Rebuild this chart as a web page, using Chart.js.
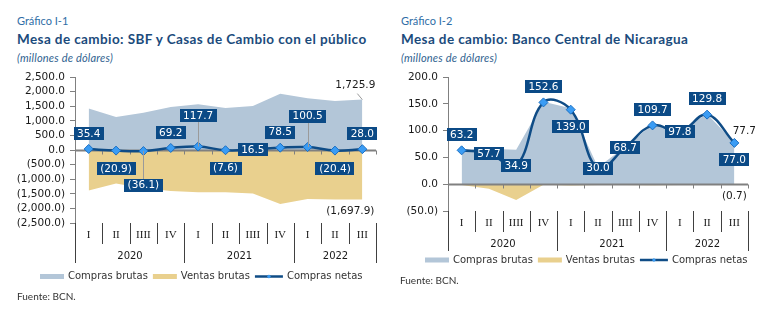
<!DOCTYPE html>
<html>
<head>
<meta charset="utf-8">
<script src="https://cdn.jsdelivr.net/npm/chart.js@4.4.0/dist/chart.umd.min.js"></script>
<style>
  body { margin: 0; background: #fff; width: 783px; height: 329px; position: relative; overflow: hidden; font-family: Lato, "Noto Sans", sans-serif; }
  .hd { position: absolute; white-space: nowrap; }
  .num { font-size: 11px; line-height: 14px; color: #2f6ea6; }
  .ttl { font-size: 13.5px; line-height: 16px; font-weight: bold; color: #1b4b7c; letter-spacing: 0.4px; }
  .unit { font-size: 11px; line-height: 13px; font-style: italic; color: #2f5f8f; letter-spacing: 0.2px; }
  .src { font-size: 10px; line-height: 12px; color: #333; }
  .box { position: absolute; top: 64px; }
</style>
</head>
<body>
<div class="hd num" style="left:17px;top:14px">Gráfico I-1</div>
<div class="hd ttl" style="left:17px;top:31px">Mesa de cambio: SBF y Casas de Cambio con el público</div>
<div class="hd unit" style="left:17px;top:51px">(millones de dólares)</div>
<div class="hd num" style="left:401px;top:14px">Gráfico I-2</div>
<div class="hd ttl" style="left:401px;top:31px">Mesa de cambio: Banco Central de Nicaragua</div>
<div class="hd unit" style="left:401px;top:51px">(millones de dólares)</div>

<div class="box" style="left:0;width:390px;height:245px"><canvas id="sbf" width="390" height="245"></canvas></div>
<div class="box" style="left:390px;width:393px;height:245px"><canvas id="bcn" width="393" height="245"></canvas></div>

<div class="hd src" style="left:17px;top:290px">Fuente: BCN.</div>
<div class="hd src" style="left:400px;top:274px">Fuente: BCN.</div>

<script>
// categorias
const quarters = ['I', 'II', 'IIII', 'IV', 'I', 'II', 'IIII', 'IV', 'I', 'II', 'III'];
const years = ['2020', '2021', '2022'];
const yearSpans = [4, 4, 3];
const seriesNames = ['Compras brutas', 'Ventas brutas', 'Compras netas'];

// Grafico I-1: SBF y casas de cambio
const sbfCompras = [1420.0, 1130.0, 1275.0, 1470.0, 1565.0, 1440.0, 1505.0, 1930.0, 1775.0, 1675.0, 1725.9];
const sbfVentas = [-1384.6, -1150.9, -1311.1, -1400.8, -1447.3, -1447.6, -1488.5, -1851.5, -1674.5, -1695.4, -1697.9];
const sbfNetas = [35.4, -20.9, -36.1, 69.2, 117.7, -7.6, 16.5, 78.5, 100.5, -20.4, 28.0];
const sbfTicks = [-2500, -2000, -1500, -1000, -500, 0, 500, 1000, 1500, 2000, 2500];

// Grafico I-2: BCN
const bcnCompras = [64.5, 66.0, 64.3, 153.6, 141.5, 31.5, 70.0, 111.5, 99.5, 131.0, 77.7];
const bcnVentas = [-1.3, -8.3, -29.4, -1.0, -2.5, -1.5, -1.3, -1.8, -1.7, -1.2, -0.7];
const bcnNetas = [63.2, 57.7, 34.9, 152.6, 139.0, 30.0, 68.7, 109.7, 97.8, 129.8, 77.0];
const bcnTicks = [-50, 0, 50, 100, 150, 200];

const COL = {
  compras: '#b3c6d8',
  ventas: '#e9d08e',
  netas: '#0f4c86',
  box: '#0b4a86',
  marker: '#3a9cf4',
  markerBorder: '#1b6fc2',
  axis: '#808080',
  sep: '#404040',
  text: '#1a1a1a'
};
const NUM_FONT = "10.5px 'DejaVu Sans'";

function fmt(v) {
  var s = Math.abs(v).toLocaleString('en-US', {minimumFractionDigits: 1, maximumFractionDigits: 1});
  return v < 0 ? '(' + s + ')' : s;
}

function seg(ctx, x1, y1, x2, y2) {
  ctx.beginPath();
  ctx.moveTo(x1, y1);
  ctx.lineTo(x2, y2);
  ctx.stroke();
}

// linea del cero, ejes de categorias y leyenda
const decor = {
  id: 'decor',
  beforeDatasetDraw(chart, args, o) {
    if (args.index !== 0) return;
    var ctx = chart.ctx, a = chart.chartArea;
    var y0 = Math.round(chart.scales.y.getPixelForValue(0)) + 0.5;
    var xs = chart.scales.x, step = xs.getPixelForValue(1) - xs.getPixelForValue(0);
    ctx.save();
    ctx.strokeStyle = COL.axis;
    ctx.lineWidth = 1;
    for (var i = 1; i <= quarters.length; i++) {
      var x = Math.round(xs.getPixelForValue(0) + (i - 0.5) * step) + 0.5;
      seg(ctx, x, y0, x, y0 + 4);
    }
    ctx.lineWidth = 2;
    seg(ctx, a.left, y0, a.right, y0);
    ctx.restore();
  },
  afterDraw(chart, args, o) {
    var ctx = chart.ctx, a = chart.chartArea, xs = chart.scales.x;
    var step = xs.getPixelForValue(1) - xs.getPixelForValue(0);
    var bx = function (i) { return Math.round(xs.getPixelForValue(0) + (i - 0.5) * step) + 0.5; };
    ctx.save();
    ctx.strokeStyle = COL.sep;
    ctx.lineWidth = 1;
    var yearEdges = [0];
    yearSpans.forEach(function (s) { yearEdges.push(yearEdges[yearEdges.length - 1] + s); });
    for (var i = 0; i <= quarters.length; i++) {
      var long = yearEdges.indexOf(i) >= 0;
      seg(ctx, bx(i), a.bottom, bx(i), a.bottom + (long ? 40 : 21));
    }
    ctx.fillStyle = COL.text;
    ctx.textAlign = 'center';
    ctx.textBaseline = 'middle';
    ctx.font = "11px 'Liberation Serif'";
    quarters.forEach(function (q, i) { ctx.fillText(q, xs.getPixelForValue(i), a.bottom + 12.5); });
    ctx.font = "10px 'DejaVu Sans'";
    years.forEach(function (y, k) {
      var mid = (bx(yearEdges[k]) + bx(yearEdges[k + 1])) / 2;
      ctx.fillText(y, mid, a.bottom + 33.5);
    });

    // leyenda
    var x = o.legendX, y = o.legendY;
    ctx.textAlign = 'left';
    [COL.compras, COL.ventas, null].forEach(function (c, k) {
      if (c) {
        ctx.fillStyle = c;
        ctx.fillRect(x, y - 2.5, 24, 5);
        x += 28;
      } else {
        ctx.strokeStyle = COL.netas;
        ctx.lineWidth = 2.5;
        seg(ctx, x, y, x + 28, y);
        ctx.fillStyle = COL.marker;
        ctx.beginPath();
        ctx.moveTo(x + 14, y - 2); ctx.lineTo(x + 16, y); ctx.lineTo(x + 14, y + 2); ctx.lineTo(x + 12, y);
        ctx.fill();
        x += 32;
      }
      ctx.fillStyle = '#333';
      ctx.fillText(seriesNames[k], x, y);
      x += ctx.measureText(seriesNames[k]).width + 5;
    });
    ctx.restore();
  },
  afterDatasetsDraw(chart, args, o) {
    var ctx = chart.ctx;
    var meta = chart.getDatasetMeta(0);
    var vals = chart.data.datasets[0].data;
    ctx.save();
    ctx.font = NUM_FONT;
    ctx.textAlign = 'center';
    ctx.textBaseline = 'middle';
    meta.data.forEach(function (pt, i) {
      var pos = o.pos[i], dy = o.shift[pos];
      var txt = fmt(vals[i]);
      var w = Math.round(ctx.measureText(txt).width + 7), h = 13;
      var cx = pt.x, cy = pt.y + dy;
      if (pos === 'up2' || pos === 'down2') {
        ctx.strokeStyle = '#9a9a9a';
        ctx.lineWidth = 1;
        seg(ctx, Math.round(pt.x) + 0.5, pt.y, Math.round(pt.x) + 0.5, cy);
      }
      ctx.fillStyle = COL.box;
      ctx.fillRect(Math.round(cx - w / 2), Math.round(cy - h / 2), w, h);
      ctx.fillStyle = '#fff';
      ctx.fillText(txt, cx, cy + 0.5);
    });
    // valores finales de compras y ventas brutas
    o.ends.forEach(function (e) {
      var m = chart.getDatasetMeta(e.ds);
      var p = m.data[m.data.length - 1];
      var v = chart.data.datasets[e.ds].data[m.data.length - 1];
      if (e.leader) {
        ctx.strokeStyle = '#9a9a9a';
        ctx.lineWidth = 1;
        seg(ctx, p.x - 5, p.y - 6, p.x, p.y);
      }
      ctx.fillStyle = COL.text;
      ctx.fillText(fmt(v), p.x + e.dx, p.y + e.dy);
    });
    ctx.restore();
  }
};

function makeChart(id, compras, ventas, netas, ticks, cfg) {
  return new Chart(document.getElementById(id), {
    type: 'line',
    data: {
      labels: quarters,
      datasets: [
        {
          label: seriesNames[2], data: netas, order: 0, fill: false,
          borderColor: COL.netas, borderWidth: 2.5, tension: 0.4,
          pointStyle: 'rectRot', pointRadius: 4.5, pointBackgroundColor: COL.marker,
          pointBorderColor: COL.markerBorder, pointBorderWidth: 1
        },
        {
          label: seriesNames[0], data: compras, order: 1, fill: 'origin',
          backgroundColor: COL.compras, borderWidth: 0, pointRadius: 0, tension: 0
        },
        {
          label: seriesNames[1], data: ventas, order: 2, fill: 'origin',
          backgroundColor: COL.ventas, borderWidth: 0, pointRadius: 0, tension: 0
        }
      ]
    },
    options: {
      responsive: false,
      animation: false,
      layout: { padding: cfg.padding },
      plugins: {
        legend: { display: false },
        tooltip: { enabled: false },
        decor: cfg.decor
      },
      scales: {
        x: { type: 'category', offset: true, display: false },
        y: {
          min: ticks[0], max: ticks[ticks.length - 1],
          afterFit: function (s) { s.width = cfg.axisWidth; },
          afterBuildTicks: function (s) { s.ticks = ticks.map(function (v) { return {value: v}; }); },
          border: { display: true, color: COL.axis, width: 1 },
          grid: { drawOnChartArea: false, drawTicks: true, tickLength: 5, color: COL.axis },
          ticks: {
            autoSkip: false, padding: 5, color: COL.text,
            font: { family: 'DejaVu Sans', size: 10.5 },
            callback: function (v) { return fmt(v); }
          }
        }
      }
    },
    plugins: [decor]
  });
}

makeChart('sbf', sbfCompras, sbfVentas, sbfNetas, sbfTicks, {
  axisWidth: 75,
  padding: { top: 13, right: 14, bottom: 86, left: 0 },
  decor: {
    pos: ['up', 'down', 'down2', 'up', 'up2', 'down', 'mid', 'up', 'up2', 'down', 'up'],
    shift: { up: -15.5, up2: -31, down: 18, down2: 34, mid: 0 },
    ends: [{ ds: 1, dx: -7, dy: -14, leader: true }, { ds: 2, dx: -12, dy: 12 }],
    legendX: 40, legendY: 212.5
  }
});

makeChart('bcn', bcnCompras, bcnVentas, bcnNetas, bcnTicks, {
  axisWidth: 58,
  padding: { top: 13, right: 35, bottom: 98, left: 0 },
  decor: {
    pos: ['up', 'mid', 'mid', 'up', 'down', 'mid', 'mid', 'up', 'mid', 'up', 'down'],
    shift: { up: -16, up2: -31, down: 17, down2: 34, mid: 0 },
    ends: [{ ds: 1, dx: 10, dy: -11 }, { ds: 2, dx: 0, dy: 11.5 }],
    legendX: 35, legendY: 196
  }
});
</script>
</body>
</html>
